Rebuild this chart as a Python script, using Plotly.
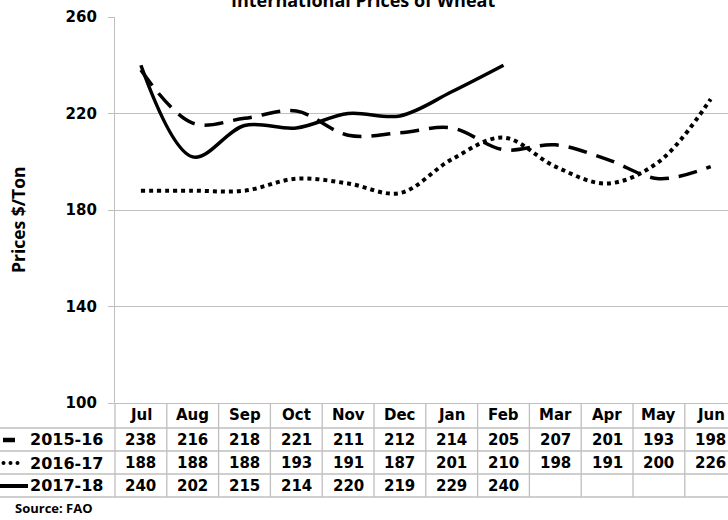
import plotly.graph_objects as go

# ---- data ----
months = ["Jul", "Aug", "Sep", "Oct", "Nov", "Dec", "Jan", "Feb", "Mar", "Apr", "May", "Jun"]
s1516 = [238, 216, 218, 221, 211, 212, 214, 205, 207, 201, 193, 198]
s1617 = [188, 188, 188, 193, 191, 187, 201, 210, 198, 191, 200, 226]
s1718 = [240, 202, 215, 214, 220, 219, 229, 240]
series_names = ["2015-16", "2016-17", "2017-18"]
yticks = [100, 140, 180, 220, 260]

# ---- layout geometry (pixels) ----
W, H = 728, 520
L, R, T, B = 115, 0, 17, 117
plot_w = W - L - R
plot_h = H - T - B
colw = 51.8
xmax = plot_w / colw - 0.5


def px(p):
    return (p - L) / plot_w


def py(p):
    return (H - B - p) / plot_h


GRID = "#BFBFBF"
TFONT = dict(family="DejaVu Sans", size=15, color="black", weight="bold")
CFONT = "Open Sans"

fig = go.Figure()
xs = list(range(len(months)))
fig.add_trace(go.Scatter(x=xs[:len(s1516)], y=s1516, mode="lines", name=series_names[0],
                         line=dict(color="black", width=3.5, dash="19px,10px", shape="spline")))
fig.add_trace(go.Scatter(x=xs[:len(s1617)], y=s1617, mode="lines", name=series_names[1],
                         line=dict(color="black", width=4, dash="4px,4px", shape="spline")))
fig.add_trace(go.Scatter(x=xs[:len(s1718)], y=s1718, mode="lines", name=series_names[2],
                         line=dict(color="black", width=3.5, shape="spline")))

shapes = []
annotations = []

# table horizontal lines
for yy in [428, 451, 474, 497]:
    shapes.append(dict(type="line", xref="paper", yref="paper", x0=px(0), x1=1,
                       y0=py(yy), y1=py(yy), line=dict(color=GRID, width=1.3)))
# table vertical lines
for i in range(len(months)):
    xp = L + i * colw
    shapes.append(dict(type="line", xref="paper", yref="paper", x0=px(xp), x1=px(xp),
                       y0=py(403), y1=py(497), line=dict(color=GRID, width=1.3)))

# header
for i, m in enumerate(months):
    annotations.append(dict(x=i, y=py(415), xref="x", yref="paper", text=m, showarrow=False,
                            font=TFONT, xanchor="center", yanchor="middle"))

rows = [s1516, s1617, s1718]
row_y = [440, 463, 486]
for vals, name, ry in zip(rows, series_names, row_y):
    for i, v in enumerate(vals):
        annotations.append(dict(x=i, y=py(ry), xref="x", yref="paper", text=str(v), showarrow=False,
                                font=TFONT, xanchor="center", yanchor="middle"))
    annotations.append(dict(x=px(105), y=py(ry), xref="paper", yref="paper", text=name, showarrow=False,
                            font=dict(TFONT, size=16), xanchor="right", yanchor="middle"))

# legend keys
shapes.append(dict(type="line", xref="paper", yref="paper", x0=px(3), x1=px(15), y0=py(440), y1=py(440),
                   line=dict(color="black", width=4.5)))
for cx in [3.5, 10.5, 17.5]:
    shapes.append(dict(type="circle", xref="paper", yref="paper", x0=px(cx - 2), x1=px(cx + 2),
                       y0=py(463 + 2), y1=py(463 - 2), fillcolor="black", line=dict(width=0)))
shapes.append(dict(type="line", xref="paper", yref="paper", x0=px(0), x1=px(28), y0=py(486), y1=py(486),
                   line=dict(color="black", width=4)))

# title (cut off at top, as in the reference)
annotations.append(dict(x=px(363), y=py(0), xref="paper", yref="paper", text="International Prices of Wheat",
                        showarrow=False, font=dict(family=CFONT, size=18, color="black", weight="bold"),
                        xanchor="center", yanchor="middle"))
# y title
annotations.append(dict(x=px(18), y=py(220), xref="paper", yref="paper", text="Prices $/Ton",
                        showarrow=False, textangle=-90,
                        font=dict(family=CFONT, size=17.5, color="black", weight="bold"),
                        xanchor="center", yanchor="middle"))
# source
annotations.append(dict(x=px(13), y=py(508), xref="paper", yref="paper", text="Source: FAO",
                        showarrow=False, font=dict(family=CFONT, size=13, color="black", weight="bold"),
                        xanchor="left", yanchor="middle"))

fig.update_layout(
    width=W, height=H,
    margin=dict(l=L, r=R, t=T, b=B, pad=0),
    plot_bgcolor="white", paper_bgcolor="white",
    showlegend=False,
    shapes=shapes, annotations=annotations,
    xaxis=dict(range=[-0.5, xmax], showticklabels=False, showgrid=False, zeroline=False,
               showline=True, linecolor=GRID, linewidth=1.3, ticks=""),
    yaxis=dict(range=[100, 260], tickvals=yticks, showgrid=True, gridcolor=GRID, gridwidth=1.3,
               zeroline=False, showline=True, linecolor=GRID, linewidth=1.3,
               ticks="outside", ticklen=6, tickcolor=GRID, tickwidth=1.3,
               ticklabelstandoff=8, tickfont=TFONT),
)

fig.write_html("out.html", config={"displayModeBar": False},
               post_script="document.body.style.margin='0px';")
